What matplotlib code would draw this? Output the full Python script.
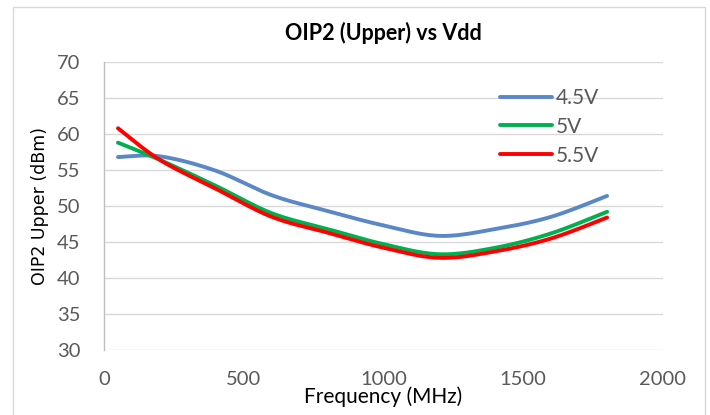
import matplotlib.pyplot as plt
from matplotlib.patches import Rectangle
import numpy as np

# data
freq_mhz = [50, 200, 400, 600, 800, 1000, 1200, 1400, 1600, 1800]
oip2_45v = [56.8, 56.9, 54.9, 51.5, 49.3, 47.3, 45.85, 46.8, 48.5, 51.4]
oip2_5v = [58.8, 56.4, 52.8, 49.0, 46.8, 44.7, 43.3, 44.2, 46.2, 49.2]
oip2_55v = [60.8, 56.4, 52.4, 48.5, 46.3, 44.2, 42.8, 43.7, 45.5, 48.4]
labels = ['4.5V', '5V', '5.5V']
colors = ['#5A87C5', '#00B050', '#FF0000']
x_ticks = [0, 500, 1000, 1500, 2000]
y_ticks = [30, 35, 40, 45, 50, 55, 60, 65, 70]


def smooth(xs, ys, n=40):
  # Excel style smoothed line (Catmull-Rom / Bezier through the points)
  p = np.column_stack([xs, ys]).astype(float)
  p = np.vstack([p[0], p, p[-1]])
  out = []
  t = np.linspace(0, 1, n)[:, None]
  for i in range(1, len(p) - 2):
    p0, p1, p2, p3 = p[i - 1], p[i], p[i + 1], p[i + 2]
    c1 = p1 + (p2 - p0) / 6
    c2 = p2 - (p3 - p1) / 6
    seg = ((1 - t) ** 3) * p1 + 3 * ((1 - t) ** 2) * t * c1 + 3 * (1 - t) * t ** 2 * c2 + t ** 3 * p2
    out.append(seg)
  out = np.vstack(out)
  return out[:, 0], out[:, 1]


W, H = 710, 415
fig = plt.figure(figsize=(W / 100, H / 100), dpi=100)
fig.patches.append(Rectangle((13 / W, -0.05), (705 - 13) / W, 1.05 - 7 / H,
                             transform=fig.transFigure, fill=False,
                             edgecolor='#D9D9D9', lw=1.0))
ax = fig.add_axes([104 / W, 1 - 350 / H, (663 - 104) / W, (350 - 62) / H])

for series, lab, col in zip([oip2_45v, oip2_5v, oip2_55v], labels, colors):
  sx, sy = smooth(freq_mhz, series)
  ax.plot(sx, sy, color=col, lw=2.8, label=lab, solid_capstyle='round')

ax.set_xlim(0, 2000)
ax.set_ylim(30, 70)
ax.set_xticks(x_ticks)
ax.set_yticks(y_ticks)
ax.grid(axis='y', color='#D9D9D9', lw=1.0)
ax.set_axisbelow(True)
for s in ['top', 'right', 'bottom']:
  ax.spines[s].set_visible(False)
ax.spines['left'].set_color('#BFBFBF')
ax.spines['left'].set_linewidth(1.0)
ax.tick_params(length=0, labelsize=14.5, labelcolor='#595959')
ax.tick_params(axis='x', pad=15)
ax.tick_params(axis='y', pad=17)
for lbl in ax.get_xticklabels() + ax.get_yticklabels():
  lbl.set_fontfamily('Lato')

ax.set_title('OIP2 (Upper) vs Vdd', fontfamily='Lato', fontweight='bold',
             fontsize=15.5, color='black', pad=16)
ax.set_xlabel('Frequency (MHz)', fontfamily='Lato', fontsize=15, labelpad=-1)
ax.set_ylabel('OIP2 Upper (dBm)', fontfamily='DejaVu Sans', fontsize=12.5, labelpad=6)

leg = ax.legend(loc='upper left', bbox_to_anchor=((500 - 104) / (663 - 104), (350 - 88) / 288),
                frameon=False, borderpad=0, borderaxespad=0, handlelength=2.5,
                handletextpad=0.2, labelspacing=0.42, prop={'family': 'Lato', 'size': 15})
for t in leg.get_texts():
  t.set_color('#595959')

fig.savefig('out.png', dpi=100)
